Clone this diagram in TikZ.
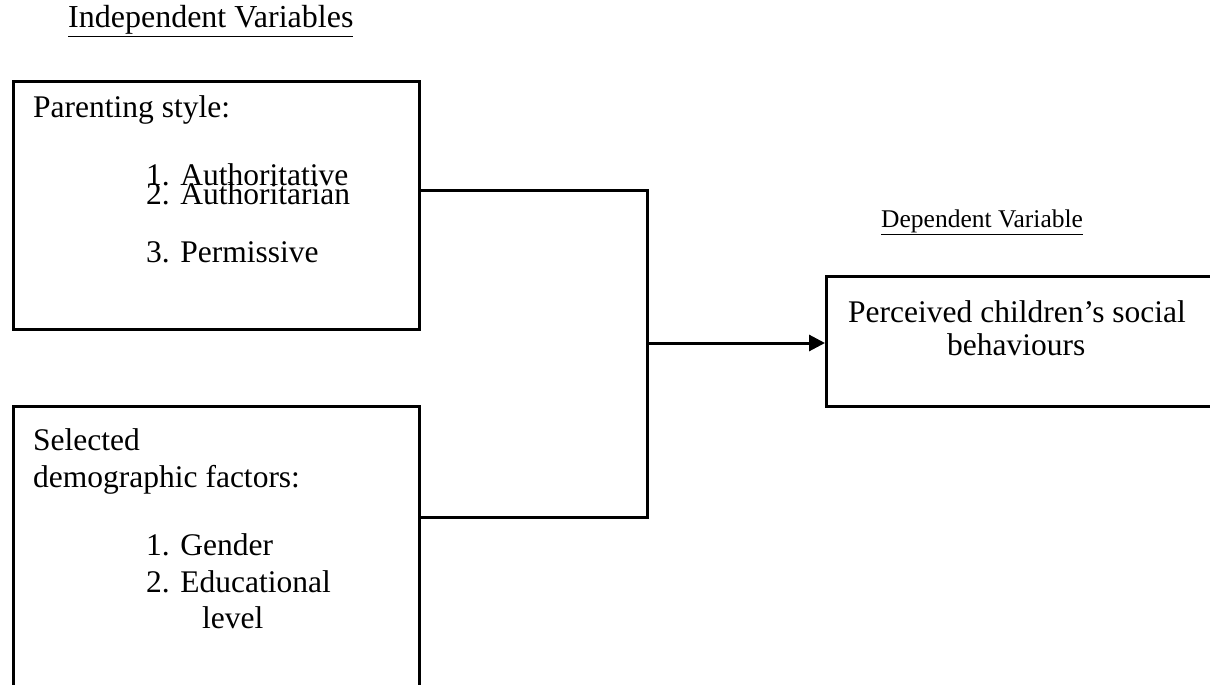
\documentclass[tikz,border=0pt]{standalone}
\usepackage{fontspec}
\setmainfont{Liberation Serif}
\usetikzlibrary{positioning, arrows.meta}
\tikzset{>={Triangle[length=16pt,width=16pt]},
every box/.style={draw, line width=3pt, rectangle, anchor=north west, inner sep=0pt},
txt/.style={anchor=base west, inner sep=0pt, font=\rmfamily\fontsize{31.5}{37}\selectfont},
head/.style={anchor=base west, inner sep=0pt},
link/.style={line width=3pt},
}
\newcommand{\fsz}[1]{\rmfamily\fontsize{#1}{#1}\selectfont}

\begin{document}
\begin{tikzpicture}[x=1pt, y=-1pt]
    \useasboundingbox (0,0) rectangle (1210,685);
    \clip (0,0) rectangle (1210,685);

    % boxes
    \node[every box, minimum width=406pt, minimum height=248pt] (ps) at (12,80) {};
    \node[every box, minimum width=406pt, minimum height=320pt] (df) at (12,405) {};
    \node[every box, minimum width=420pt, minimum height=130pt] (sb) at (825,275) {};

    % headings
    \node[head, font=\fsz{32}] (iv) at (68,28) {\underline{Independent Variables}};
    \node[head, font=\fsz{25.5}] (dv) at (881,227) {\underline{Dependent Variable}};

    % texts
    \node[txt] (ps0) at (33,117) {Parenting style:};
    \node[txt] (ps1) at (146,185) {1. Authoritative};
    \node[txt] (ps2) at (146,204) {2. Authoritarian};
    \node[txt] (ps3) at (146,262) {3. Permissive};
    \node[txt] (df0) at (33,450) {Selected};
    \node[txt] (df1) at (33,487) {demographic factors:};
    \node[txt] (df2) at (146,555) {1. Gender};
    \node[txt] (df3) at (146,592) {2. Educational};
    \node[txt] (df4) at (202,628) {level};
    \node[txt] (sb0) at (848,322) {Perceived children’s social};
    \node[txt] (sb1) at (947,355) {behaviours};

    \coordinate (j1) at (647,190);
    \coordinate (j2) at (647,517);
    \coordinate (jm) at (647,343);

    \draw[link] (ps.east |- j1) -- (j1) -- (j2) -- (df.east |- j2);
    \draw[link, ->] (jm) -- (sb.west |- jm);
\end{tikzpicture}
\end{document}
